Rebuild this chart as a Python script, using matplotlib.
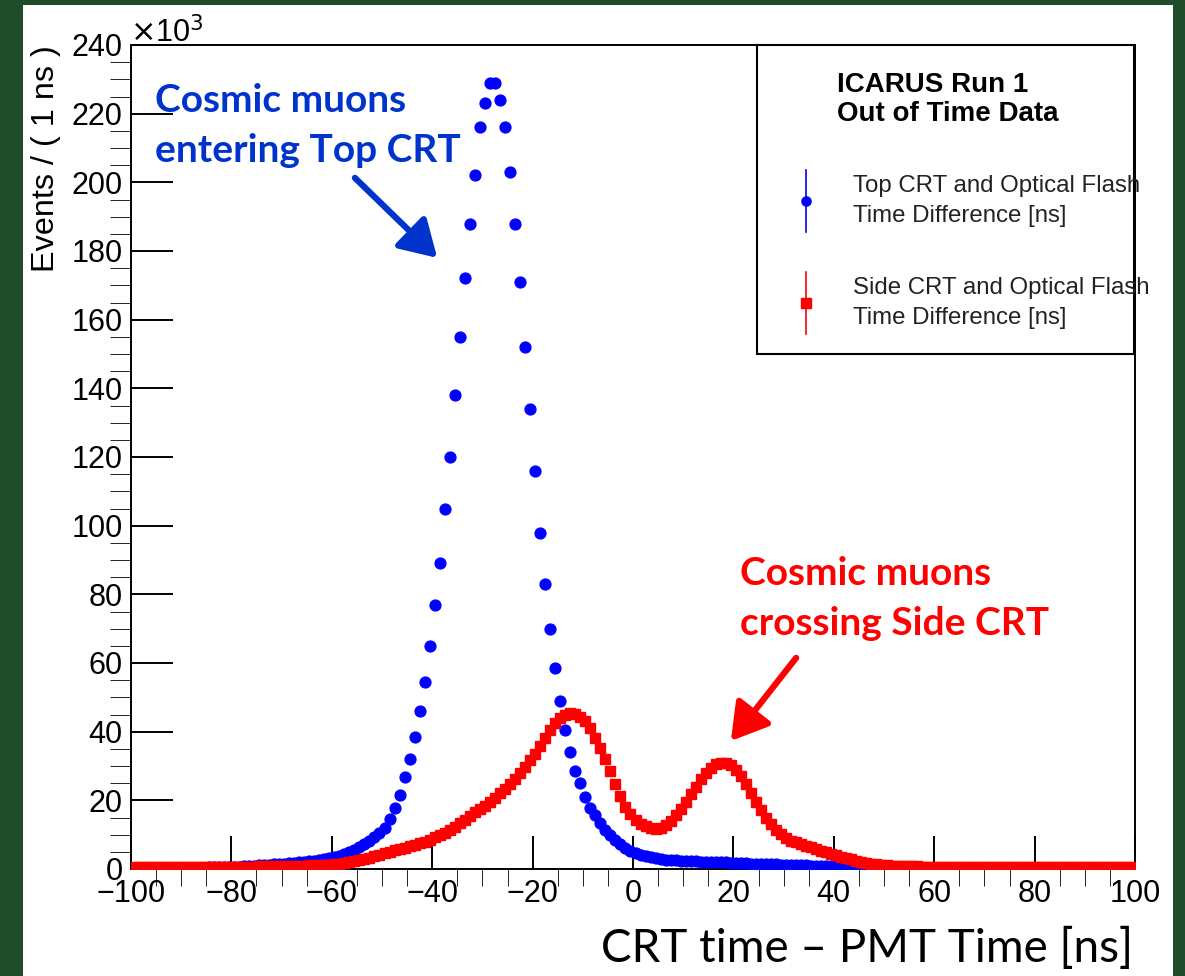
import numpy as np
import matplotlib.pyplot as plt
from matplotlib.patches import Rectangle
from matplotlib.lines import Line2D

# bin centres, 1 ns bins from -100 to 100 ns
bin_lo = -100
bin_hi = 100

# Top CRT - optical flash time difference, events per bin (x1000)
top_crt = [
    0.2, 0.2, 0.2, 0.3, 0.3, 0.3, 0.3, 0.3, 0.3, 0.3,
    0.3, 0.4, 0.4, 0.4, 0.4, 0.5, 0.5, 0.5, 0.5, 0.6,
    0.6, 0.7, 0.8, 0.9, 1.0, 1.1, 1.2, 1.3, 1.4, 1.5,
    1.6, 1.7, 1.8, 1.9, 2.0, 2.2, 2.4, 2.6, 2.8, 3.1,
    3.4, 3.8, 4.3, 4.9, 5.5, 6.3, 7.2, 8.2, 9.3, 10.6,
    12.0, 14.5, 17.8, 21.5, 26.8, 32.0, 38.5, 46.0, 54.5, 65.0,
    77.0, 89.0, 105.0, 120.0, 138.0, 155.0, 172.0, 188.0, 202.0, 216.0,
    223.0, 229.0, 229.0, 224.0, 216.0, 203.0, 188.0, 171.0, 152.0, 134.0,
    116.0, 98.0, 83.0, 70.0, 58.5, 49.0, 40.5, 34.0, 28.5, 25.0,
    21.0, 17.8, 15.7, 13.4, 11.4, 9.9, 8.5, 7.2, 6.2, 5.3,
    4.6, 4.1, 3.7, 3.4, 3.1, 2.9, 2.7, 2.6, 2.5, 2.4,
    2.3, 2.2, 2.2, 2.1, 2.1, 2.0, 2.0, 1.9, 1.9, 1.8,
    1.8, 1.7, 1.7, 1.6, 1.6, 1.5, 1.5, 1.4, 1.4, 1.3,
    1.3, 1.2, 1.2, 1.1, 1.1, 1.0, 1.0, 0.9, 0.9, 0.8,
    0.8, 0.7, 0.7, 0.6, 0.6, 0.5, 0.5, 0.5, 0.4, 0.4,
    0.4, 0.3, 0.3, 0.3, 0.3, 0.3, 0.2, 0.2, 0.2, 0.2,
    0.2, 0.2, 0.2, 0.2, 0.2, 0.2, 0.2, 0.2, 0.2, 0.2,
    0.2, 0.2, 0.1, 0.1, 0.1, 0.1, 0.1, 0.1, 0.1, 0.1,
    0.1, 0.1, 0.1, 0.1, 0.1, 0.1, 0.1, 0.1, 0.1, 0.1,
    0.1, 0.1, 0.1, 0.1, 0.1, 0.1, 0.1, 0.1, 0.1, 0.1,
]

# Side CRT - optical flash time difference, events per bin (x1000)
side_crt = [
    0.5, 0.5, 0.5, 0.5, 0.5, 0.5, 0.5, 0.5, 0.5, 0.5,
    0.6, 0.6, 0.6, 0.6, 0.6, 0.6, 0.6, 0.6, 0.6, 0.6,
    0.6, 0.7, 0.7, 0.7, 0.7, 0.8, 0.8, 0.8, 0.8, 0.9,
    0.9, 0.9, 1.0, 1.0, 1.0, 1.1, 1.1, 1.2, 1.2, 1.3,
    1.4, 1.6, 1.8, 2.0, 2.3, 2.6, 2.9, 3.3, 3.7, 4.1,
    4.6, 5.0, 5.4, 5.8, 6.2, 6.6, 7.0, 7.5, 8.0, 8.5,
    9.2, 9.9, 10.6, 11.4, 12.3, 13.3, 14.3, 15.4, 16.5, 17.6,
    18.4, 19.5, 20.7, 22.0, 23.3, 24.7, 26.2, 27.9, 29.8, 31.7,
    33.5, 35.8, 38.3, 40.6, 42.6, 44.0, 45.0, 45.4, 45.2, 44.4,
    43.0, 41.0, 38.2, 35.3, 32.0, 28.5, 24.8, 21.2, 18.2, 16.0,
    14.4, 13.2, 12.4, 11.9, 11.7, 12.0, 12.8, 14.0, 15.7, 17.6,
    19.6, 21.8, 24.0, 26.2, 28.0, 29.5, 30.5, 31.0, 30.9, 30.2,
    28.9, 27.0, 24.7, 22.2, 19.6, 17.1, 14.9, 13.0, 11.4, 10.1,
    9.0, 8.3, 7.8, 7.3, 6.8, 6.3, 5.8, 5.3, 4.9, 4.5,
    4.0, 3.6, 3.2, 2.8, 2.4, 2.1, 1.8, 1.6, 1.4, 1.2,
    1.1, 1.0, 0.9, 0.9, 0.8, 0.8, 0.8, 0.7, 0.7, 0.7,
    0.7, 0.7, 0.7, 0.6, 0.6, 0.6, 0.6, 0.6, 0.6, 0.6,
    0.6, 0.6, 0.6, 0.6, 0.6, 0.6, 0.6, 0.6, 0.6, 0.6,
    0.6, 0.6, 0.6, 0.6, 0.6, 0.6, 0.5, 0.5, 0.5, 0.5,
    0.5, 0.5, 0.5, 0.5, 0.5, 0.5, 0.5, 0.5, 0.5, 0.5,
]

W, H = 1185, 976
GREEN = '#1f4d2c'
HELV = ['Liberation Sans', 'DejaVu Sans']
CALIBRI = ['Lato', 'DejaVu Sans']


def fx(px):
    return px / W


def fy(py):
    return 1 - py / H


centers = np.arange(bin_lo, bin_hi) + 0.5
top = np.array(top_crt)
side = np.array(side_crt)
# poisson errors, in thousands of events
top_err = np.sqrt(top * 1000) / 1000
side_err = np.sqrt(side * 1000) / 1000

fig = plt.figure(figsize=(W / 100, H / 100), dpi=100, facecolor='white')
ax = fig.add_axes([fx(131), fy(869), fx(1135) - fx(131), fy(45) - fy(869)])

ax.errorbar(centers, top, yerr=top_err, fmt='o', color='#0000ff', ms=7.8,
            elinewidth=1, capsize=0, zorder=3)
ax.errorbar(centers, side, yerr=side_err, fmt='s', color='#ff0000', ms=7.4,
            elinewidth=1, capsize=0, zorder=4)

ax.set_xlim(bin_lo, bin_hi)
ax.set_ylim(0, 240)
ax.set_xticks(np.arange(-100, 101, 20))
ax.set_xticks(np.arange(-100, 101, 5), minor=True)
ax.set_yticks(np.arange(0, 241, 20))
ax.set_yticks(np.arange(0, 241, 5), minor=True)
ax.tick_params(direction='in', width=1.4, top=False, right=False)
ax.tick_params(axis='x', which='major', length=24, pad=7)
ax.tick_params(axis='x', which='minor', length=12)
ax.tick_params(axis='y', which='major', length=30, pad=6)
ax.tick_params(axis='y', which='minor', length=15)
for lab in ax.get_xticklabels() + ax.get_yticklabels():
    lab.set_fontfamily(HELV)
    lab.set_fontsize(22)
for sp in ax.spines.values():
    sp.set_linewidth(1.4)

fig.text(fx(130), fy(42), r'$\times$10$^{3}$', family=HELV, fontsize=22,
         ha='left', va='baseline')
fig.text(fx(46), fy(45), 'Events / ( 1 ns )', family=HELV, fontsize=23.3,
         rotation=90, ha='center', va='top')
fig.text(fx(1133), fy(962), 'CRT time \u2013 PMT Time [ns]', family=CALIBRI,
         fontsize=33, ha='right', va='baseline')

# legend box
fig.patches.append(Rectangle((fx(757), fy(354)), fx(1134) - fx(757), fy(45) - fy(354),
                             transform=fig.transFigure, facecolor='white',
                             edgecolor='black', lw=1.5, zorder=5))
fig.text(fx(837), fy(92), 'ICARUS Run 1', family=HELV, fontsize=20,
         weight='bold', va='baseline', zorder=6)
fig.text(fx(837), fy(121), 'Out of Time Data', family=HELV, fontsize=20,
         weight='bold', va='baseline', zorder=6)
entries = [
    ('#0000ff', 'o', 201, 'Top CRT and Optical Flash'),
    ('#ff0000', 's', 303, 'Side CRT and Optical Flash'),
]
for col, mk, yc, label in entries:
    fig.lines.append(Line2D([fx(806), fx(806)], [fy(yc - 31), fy(yc + 31)],
                            transform=fig.transFigure, color=col, lw=1.2, zorder=6))
    fig.lines.append(Line2D([fx(806)], [fy(yc)], transform=fig.transFigure,
                            marker=mk, color=col, ms=6.6, zorder=6))
    fig.text(fx(853), fy(yc - 9), label, family=HELV, fontsize=17.3,
             color='#222222', va='baseline', zorder=6)
    fig.text(fx(853), fy(yc + 21), 'Time Difference [ns]', family=HELV,
             fontsize=17.3, color='#222222', va='baseline', zorder=6)

# annotations
blue_txt = '#0033cc'
red_txt = '#ff0000'
fig.text(fx(155), fy(112), 'Cosmic muons', family=CALIBRI, weight='bold',
         fontsize=28, color=blue_txt, va='baseline')
fig.text(fx(155), fy(162), 'entering Top CRT', family=CALIBRI, weight='bold',
         fontsize=28, color=blue_txt, va='baseline')
fig.text(fx(740), fy(585), 'Cosmic muons', family=CALIBRI, weight='bold',
         fontsize=28, color=red_txt, va='baseline')
fig.text(fx(740), fy(635), 'crossing Side CRT', family=CALIBRI, weight='bold',
         fontsize=28, color=red_txt, va='baseline')

ax.annotate('', xy=(-39.0, 178.0), xytext=(-55.4, 201.3),
            arrowprops=dict(arrowstyle='-|>,head_length=0.55,head_width=0.33',
                            color=blue_txt, lw=4.5, mutation_scale=40,
                            shrinkA=0, shrinkB=0))
ax.annotate('', xy=(19.5, 37.3), xytext=(32.5, 61.5),
            arrowprops=dict(arrowstyle='-|>,head_length=0.55,head_width=0.33',
                            color=red_txt, lw=4.5, mutation_scale=40,
                            shrinkA=0, shrinkB=0))

# dark green frame around the page
for x0, y0, w, h in [(0, 0, fx(23), 1), (0, fy(5), 1, 1 - fy(5)),
                     (fx(1173), 0, 1 - fx(1173), 1)]:
    fig.patches.append(Rectangle((x0, y0), w, h, transform=fig.transFigure,
                                 facecolor=GREEN, edgecolor='none', zorder=10))

fig.savefig('out.png', dpi=100)
